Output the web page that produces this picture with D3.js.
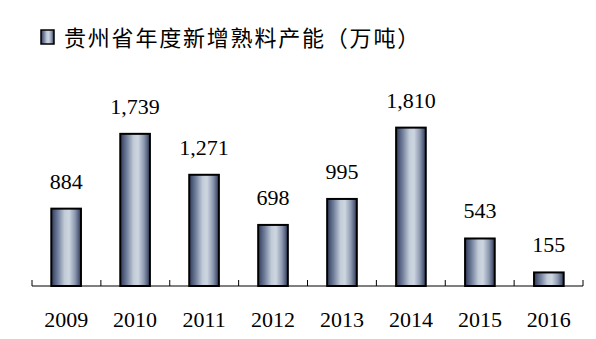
<!DOCTYPE html>
<html>
<head>
<meta charset="utf-8">
<script src="https://cdn.jsdelivr.net/npm/d3@7"></script>
<style>
  body { margin: 0; background: #fff; }
  svg { display: block; }
</style>
</head>
<body>
<svg id="chart"></svg>
<script>
let years = ['2009', '2010', '2011', '2012', '2013', '2014', '2015', '2016'];
let capacity = [884, 1739, 1271, 698, 995, 1810, 543, 155];
let title = '贵州省年度新增熟料产能（万吨）';

let w = 596;
let h = 339;
let svg = d3.select('#chart').attr('width', w).attr('height', h);

let defs = svg.append('defs');
let grad = defs.append('linearGradient')
    .attr('id', 'barGrad')
    .attr('x1', '0%').attr('x2', '100%')
    .attr('y1', '0%').attr('y2', '0%');
[['0%', '#2e3a58'], ['20%', '#6b7896'], ['45%', '#c2ccd8'], ['60%', '#cdd6e0'], ['80%', '#8d99b0'], ['100%', '#2e3a58']]
    .forEach(s => grad.append('stop').attr('offset', s[0]).attr('stop-color', s[1]));

let xScale = d3.scaleBand()
    .domain(years)
    .range([32, 583])
    .paddingInner(0.57)
    .paddingOuter(0.28);

let yScale = d3.scaleLinear()
    .domain([0, 2000])
    .range([286, 111]);

// legend / title
svg.append('rect')
    .attr('x', 41).attr('y', 30)
    .attr('width', 13).attr('height', 14)
    .attr('fill', 'url(#barGrad)')
    .attr('stroke', '#000')
    .attr('stroke-width', 1.5);
svg.append('text')
    .attr('x', 64).attr('y', 46)
    .attr('font-family', '"Noto Sans CJK SC", sans-serif')
    .attr('font-size', 22)
    .attr('letter-spacing', 1.8)
    .attr('fill', '#000')
    .text(title);

// bars
svg.selectAll('rect.bar')
    .data(capacity)
    .enter()
    .append('rect')
    .attr('class', 'bar')
    .attr('x', (d, i) => xScale(years[i]))
    .attr('y', d => yScale(d))
    .attr('width', xScale.bandwidth())
    .attr('height', d => yScale(0) - yScale(d))
    .attr('fill', 'url(#barGrad)')
    .attr('stroke', '#000')
    .attr('stroke-width', 2);

// value labels
svg.selectAll('text.val')
    .data(capacity)
    .enter()
    .append('text')
    .attr('class', 'val')
    .attr('x', (d, i) => xScale(years[i]) + xScale.bandwidth() / 2)
    .attr('y', d => yScale(d) - 20)
    .attr('text-anchor', 'middle')
    .attr('font-family', '"Liberation Serif", serif')
    .attr('font-size', 22)
    .attr('fill', '#000')
    .text(d => d3.format(',')(d));

// x axis
let xAxis = d3.axisBottom(xScale).tickSize(0).tickPadding(0).tickFormat('');
let gx = svg.append('g')
    .attr('transform', 'translate(0,' + yScale(0) + ')')
    .call(xAxis);
gx.select('.domain').remove();
gx.append('line')
    .attr('x1', 32).attr('x2', 583)
    .attr('stroke', '#000').attr('stroke-width', 1.2);
let edges = d3.range(years.length + 1).map(i => 32 + i * (551 / years.length));
gx.selectAll('line.sep')
    .data(edges)
    .enter()
    .append('line')
    .attr('class', 'sep')
    .attr('x1', d => d).attr('x2', d => d)
    .attr('y1', 0).attr('y2', -6)
    .attr('stroke', '#000').attr('stroke-width', 1);

svg.selectAll('text.year')
    .data(years)
    .enter()
    .append('text')
    .attr('class', 'year')
    .attr('x', d => xScale(d) + xScale.bandwidth() / 2)
    .attr('y', 327)
    .attr('text-anchor', 'middle')
    .attr('font-family', '"Liberation Serif", serif')
    .attr('font-size', 22)
    .attr('fill', '#000')
    .text(d => d);
</script>
</body>
</html>
